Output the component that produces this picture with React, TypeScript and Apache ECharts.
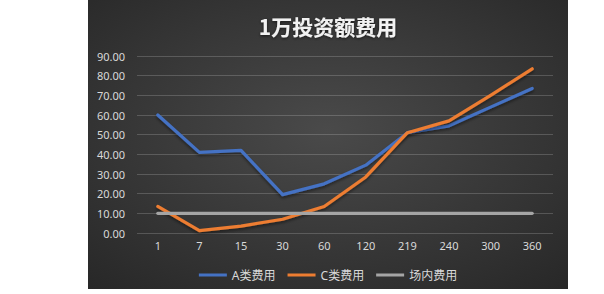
import React, { useEffect, useRef } from "react";
import * as echarts from "echarts";

const categories = ["1", "7", "15", "30", "60", "120", "219", "240", "300", "360"];
const seriesA = [60, 41, 42, 19.5, 25, 34.5, 51, 54.5, 64, 73.5];
const seriesC = [13.5, 1.2, 3.5, 7, 13.5, 28.5, 51, 57, 70, 83.5];
const seriesField = [10, 10, 10, 10, 10, 10, 10, 10, 10, 10];
const seriesNames = ["A类费用", "C类费用", "场内费用"];
const colors = ["#4472C4", "#ED7D31", "#A5A5A5"];

export default function App() {
  const ref = useRef<HTMLDivElement>(null);
  useEffect(() => {
    if (!ref.current) return;
    const chart = echarts.init(ref.current, null, { renderer: "svg" });
    const font = "'Noto Sans', 'Noto Sans CJK SC', sans-serif";
    const mk = (i: number, data: number[], shadow: boolean) => ({
      name: seriesNames[i],
      type: "line",
      data,
      symbol: "none",
      lineStyle: shadow
        ? {
            color: colors[i],
            width: 3.2,
            cap: "round",
            join: "round",
            shadowColor: "rgba(0,0,0,0.45)",
            shadowBlur: 3,
            shadowOffsetY: 2,
          }
        : { color: colors[i], width: 3.2, cap: "round", join: "round" },
      itemStyle: { color: colors[i] },
      z: 2 + i,
    });
    chart.setOption({
      animation: false,
      backgroundColor: {
        type: "radial",
        x: 0.5,
        y: 0.45,
        r: 0.75,
        colorStops: [
          { offset: 0, color: "#4a4a4a" },
          { offset: 1, color: "#272727" },
        ],
      },
      title: {
        text: "1万投资额费用",
        left: "center",
        top: 10,
        textStyle: {
          color: "#f2f2f2",
          fontSize: 21,
          fontWeight: "bold",
          fontFamily: "'Noto Sans CJK SC', sans-serif",
          textShadowColor: "rgba(0,0,0,0.6)",
          textShadowBlur: 3,
          textShadowOffsetY: 1,
        },
      },
      legend: {
        data: seriesNames,
        top: 264,
        left: "center",
        icon: "rect",
        itemWidth: 28,
        itemHeight: 3,
        itemGap: 12,
        textStyle: { color: "#d9d9d9", fontSize: 12, fontFamily: font },
      },
      grid: { left: 49, right: 15, top: 56, bottom: 56 },
      xAxis: {
        type: "category",
        data: categories,
        boundaryGap: true,
        axisLine: { show: false },
        axisTick: { show: false },
        axisLabel: { color: "#d9d9d9", fontSize: 11, margin: 7, fontFamily: font },
      },
      yAxis: {
        type: "value",
        min: 0,
        max: 90,
        interval: 10,
        axisLine: { show: false },
        axisTick: { show: false },
        axisLabel: {
          color: "#d9d9d9",
          fontSize: 11,
          margin: 12,
          fontFamily: font,
          formatter: (v: number) => v.toFixed(2),
        },
        splitLine: { lineStyle: { color: "rgba(255,255,255,0.18)", width: 1 } },
      },
      series: [mk(0, seriesA, true), mk(1, seriesC, true), mk(2, seriesField, false)],
    });
    return () => chart.dispose();
  }, []);
  return (
    <div style={{ position: "fixed", left: 0, top: 0, width: 604, height: 294, background: "#fff" }}>
      <div ref={ref} style={{ position: "absolute", left: 88, top: 0, width: 480, height: 289 }} />
    </div>
  );
}
